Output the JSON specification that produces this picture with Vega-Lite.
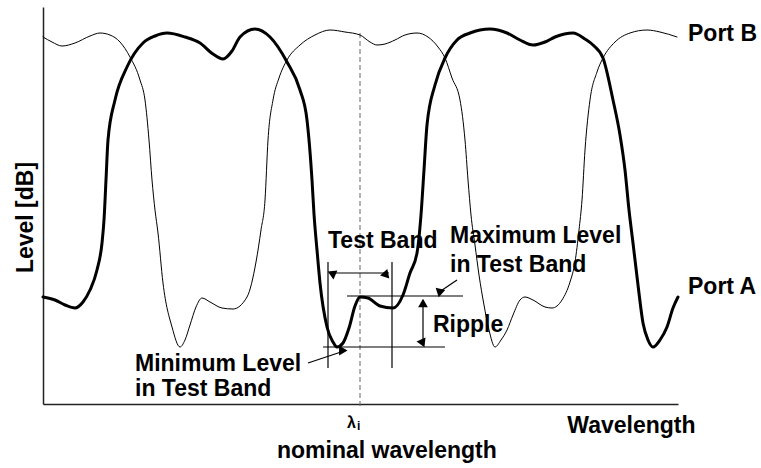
{
  "$schema": "https://vega.github.io/schema/vega-lite/v6.json",
  "autosize": {"type": "none"},
  "width": 635,
  "height": 397,
  "padding": {"left": 43, "top": 7, "right": 83, "bottom": 64},
  "background": "white",
  "config": {
    "view": {"stroke": null},
    "font": "Liberation Sans",
    "axis": {"grid": false, "ticks": false, "labels": false, "domainColor": "#222", "domainWidth": 1.5,
             "titleFont": "Liberation Sans", "titleFontWeight": "bold", "titleFontSize": 23, "titleColor": "#000"}
  },
  "datasets": {
    "curves": [
      {"port": "Port A", "wavelength": 0, "level": 107},
      {"port": "Port A", "wavelength": 12, "level": 104},
      {"port": "Port A", "wavelength": 22, "level": 99},
      {"port": "Port A", "wavelength": 32, "level": 96},
      {"port": "Port A", "wavelength": 40, "level": 102},
      {"port": "Port A", "wavelength": 47, "level": 114},
      {"port": "Port A", "wavelength": 54, "level": 134},
      {"port": "Port A", "wavelength": 59, "level": 161},
      {"port": "Port A", "wavelength": 61, "level": 184},
      {"port": "Port A", "wavelength": 63, "level": 224},
      {"port": "Port A", "wavelength": 65, "level": 264},
      {"port": "Port A", "wavelength": 72, "level": 304},
      {"port": "Port A", "wavelength": 84, "level": 337},
      {"port": "Port A", "wavelength": 100, "level": 361},
      {"port": "Port A", "wavelength": 112, "level": 368},
      {"port": "Port A", "wavelength": 124, "level": 371},
      {"port": "Port A", "wavelength": 142, "level": 367},
      {"port": "Port A", "wavelength": 157, "level": 361},
      {"port": "Port A", "wavelength": 170, "level": 350},
      {"port": "Port A", "wavelength": 180, "level": 345},
      {"port": "Port A", "wavelength": 189, "level": 353},
      {"port": "Port A", "wavelength": 197, "level": 367},
      {"port": "Port A", "wavelength": 212, "level": 375},
      {"port": "Port A", "wavelength": 227, "level": 367},
      {"port": "Port A", "wavelength": 244, "level": 342},
      {"port": "Port A", "wavelength": 257, "level": 314},
      {"port": "Port A", "wavelength": 264, "level": 284},
      {"port": "Port A", "wavelength": 269, "level": 224},
      {"port": "Port A", "wavelength": 271, "level": 190},
      {"port": "Port A", "wavelength": 274, "level": 154},
      {"port": "Port A", "wavelength": 277, "level": 121},
      {"port": "Port A", "wavelength": 284, "level": 77},
      {"port": "Port A", "wavelength": 290, "level": 62},
      {"port": "Port A", "wavelength": 294, "level": 57},
      {"port": "Port A", "wavelength": 300, "level": 61},
      {"port": "Port A", "wavelength": 306, "level": 76},
      {"port": "Port A", "wavelength": 312, "level": 98},
      {"port": "Port A", "wavelength": 317, "level": 107},
      {"port": "Port A", "wavelength": 325, "level": 106},
      {"port": "Port A", "wavelength": 337, "level": 98},
      {"port": "Port A", "wavelength": 350, "level": 96},
      {"port": "Port A", "wavelength": 360, "level": 109},
      {"port": "Port A", "wavelength": 367, "level": 131},
      {"port": "Port A", "wavelength": 374, "level": 151},
      {"port": "Port A", "wavelength": 378, "level": 189},
      {"port": "Port A", "wavelength": 381, "level": 234},
      {"port": "Port A", "wavelength": 384, "level": 279},
      {"port": "Port A", "wavelength": 392, "level": 319},
      {"port": "Port A", "wavelength": 402, "level": 346},
      {"port": "Port A", "wavelength": 414, "level": 364},
      {"port": "Port A", "wavelength": 427, "level": 371},
      {"port": "Port A", "wavelength": 447, "level": 375},
      {"port": "Port A", "wavelength": 464, "level": 371},
      {"port": "Port A", "wavelength": 477, "level": 364},
      {"port": "Port A", "wavelength": 490, "level": 359},
      {"port": "Port A", "wavelength": 502, "level": 362},
      {"port": "Port A", "wavelength": 512, "level": 367},
      {"port": "Port A", "wavelength": 530, "level": 371},
      {"port": "Port A", "wavelength": 542, "level": 365},
      {"port": "Port A", "wavelength": 550, "level": 359},
      {"port": "Port A", "wavelength": 560, "level": 346},
      {"port": "Port A", "wavelength": 570, "level": 304},
      {"port": "Port A", "wavelength": 577, "level": 269},
      {"port": "Port A", "wavelength": 582, "level": 234},
      {"port": "Port A", "wavelength": 586, "level": 194},
      {"port": "Port A", "wavelength": 590, "level": 161},
      {"port": "Port A", "wavelength": 595, "level": 119},
      {"port": "Port A", "wavelength": 600, "level": 81},
      {"port": "Port A", "wavelength": 605, "level": 64},
      {"port": "Port A", "wavelength": 610, "level": 57},
      {"port": "Port A", "wavelength": 617, "level": 64},
      {"port": "Port A", "wavelength": 624, "level": 77},
      {"port": "Port A", "wavelength": 630, "level": 96},
      {"port": "Port A", "wavelength": 635, "level": 107},

      {"port": "Port B", "wavelength": 0, "level": 367},
      {"port": "Port B", "wavelength": 9, "level": 362},
      {"port": "Port B", "wavelength": 19, "level": 358},
      {"port": "Port B", "wavelength": 32, "level": 361},
      {"port": "Port B", "wavelength": 47, "level": 368},
      {"port": "Port B", "wavelength": 57, "level": 371},
      {"port": "Port B", "wavelength": 67, "level": 369},
      {"port": "Port B", "wavelength": 77, "level": 362},
      {"port": "Port B", "wavelength": 87, "level": 347},
      {"port": "Port B", "wavelength": 97, "level": 324},
      {"port": "Port B", "wavelength": 102, "level": 304},
      {"port": "Port B", "wavelength": 106, "level": 264},
      {"port": "Port B", "wavelength": 109, "level": 224},
      {"port": "Port B", "wavelength": 112, "level": 194},
      {"port": "Port B", "wavelength": 115, "level": 171},
      {"port": "Port B", "wavelength": 120, "level": 121},
      {"port": "Port B", "wavelength": 129, "level": 77},
      {"port": "Port B", "wavelength": 137, "level": 57},
      {"port": "Port B", "wavelength": 142, "level": 64},
      {"port": "Port B", "wavelength": 147, "level": 79},
      {"port": "Port B", "wavelength": 153, "level": 97},
      {"port": "Port B", "wavelength": 159, "level": 106},
      {"port": "Port B", "wavelength": 167, "level": 102},
      {"port": "Port B", "wavelength": 179, "level": 96},
      {"port": "Port B", "wavelength": 190, "level": 95},
      {"port": "Port B", "wavelength": 204, "level": 107},
      {"port": "Port B", "wavelength": 213, "level": 142},
      {"port": "Port B", "wavelength": 218, "level": 174},
      {"port": "Port B", "wavelength": 222, "level": 204},
      {"port": "Port B", "wavelength": 225, "level": 264},
      {"port": "Port B", "wavelength": 230, "level": 304},
      {"port": "Port B", "wavelength": 236, "level": 326},
      {"port": "Port B", "wavelength": 244, "level": 344},
      {"port": "Port B", "wavelength": 257, "level": 359},
      {"port": "Port B", "wavelength": 272, "level": 369},
      {"port": "Port B", "wavelength": 287, "level": 374},
      {"port": "Port B", "wavelength": 302, "level": 372},
      {"port": "Port B", "wavelength": 317, "level": 369},
      {"port": "Port B", "wavelength": 327, "level": 362},
      {"port": "Port B", "wavelength": 334, "level": 359},
      {"port": "Port B", "wavelength": 342, "level": 360},
      {"port": "Port B", "wavelength": 352, "level": 364},
      {"port": "Port B", "wavelength": 362, "level": 369},
      {"port": "Port B", "wavelength": 374, "level": 371},
      {"port": "Port B", "wavelength": 385, "level": 367},
      {"port": "Port B", "wavelength": 395, "level": 357},
      {"port": "Port B", "wavelength": 402, "level": 346},
      {"port": "Port B", "wavelength": 409, "level": 326},
      {"port": "Port B", "wavelength": 417, "level": 304},
      {"port": "Port B", "wavelength": 422, "level": 264},
      {"port": "Port B", "wavelength": 425, "level": 224},
      {"port": "Port B", "wavelength": 428, "level": 189},
      {"port": "Port B", "wavelength": 432, "level": 159},
      {"port": "Port B", "wavelength": 436, "level": 129},
      {"port": "Port B", "wavelength": 441, "level": 99},
      {"port": "Port B", "wavelength": 446, "level": 74},
      {"port": "Port B", "wavelength": 452, "level": 57},
      {"port": "Port B", "wavelength": 458, "level": 64},
      {"port": "Port B", "wavelength": 464, "level": 74},
      {"port": "Port B", "wavelength": 470, "level": 89},
      {"port": "Port B", "wavelength": 477, "level": 104},
      {"port": "Port B", "wavelength": 482, "level": 107},
      {"port": "Port B", "wavelength": 490, "level": 104},
      {"port": "Port B", "wavelength": 502, "level": 97},
      {"port": "Port B", "wavelength": 509, "level": 96},
      {"port": "Port B", "wavelength": 519, "level": 104},
      {"port": "Port B", "wavelength": 527, "level": 122},
      {"port": "Port B", "wavelength": 532, "level": 142},
      {"port": "Port B", "wavelength": 536, "level": 174},
      {"port": "Port B", "wavelength": 539, "level": 204},
      {"port": "Port B", "wavelength": 542, "level": 254},
      {"port": "Port B", "wavelength": 547, "level": 304},
      {"port": "Port B", "wavelength": 554, "level": 332},
      {"port": "Port B", "wavelength": 560, "level": 346},
      {"port": "Port B", "wavelength": 572, "level": 362},
      {"port": "Port B", "wavelength": 587, "level": 371},
      {"port": "Port B", "wavelength": 604, "level": 374},
      {"port": "Port B", "wavelength": 617, "level": 372},
      {"port": "Port B", "wavelength": 634, "level": 367}
    ],
    "segments": [
      {"x": 285, "x2": 285, "level": 142, "level2": 36},
      {"x": 349, "x2": 349, "level": 142, "level2": 36},
      {"x": 304, "x2": 420, "level": 108, "level2": 108},
      {"x": 280, "x2": 402, "level": 57, "level2": 57},
      {"x": 288, "x2": 346, "level": 131, "level2": 131},
      {"x": 380, "x2": 380, "level": 104, "level2": 60},
      {"x": 414, "x2": 397, "level": 124, "level2": 112.5},
      {"x": 265, "x2": 301, "level": 41, "level2": 53}
    ],
    "heads": [
      {"dir": "left", "x": 291, "level": 131},
      {"dir": "right", "x": 343, "level": 131},
      {"dir": "up", "x": 380, "level": 101},
      {"dir": "down", "x": 380, "level": 63},
      {"dir": "downleft", "x": 398.2, "level": 112.8},
      {"dir": "upright", "x": 300.3, "level": 53.4}
    ],
    "labels": [
      {"label": "Test Band", "x": 285, "level": 156},
      {"label": "Maximum Level", "x": 407, "level": 161},
      {"label": "in Test Band", "x": 407, "level": 132},
      {"label": "Minimum Level", "x": 92, "level": 33},
      {"label": "in Test Band", "x": 92, "level": 8},
      {"label": "Ripple", "x": 390, "level": 72},
      {"label": "Port B", "x": 645, "level": 363},
      {"label": "Port A", "x": 645, "level": 110},
      {"label": "nominal wavelength", "x": 234, "level": -54}
    ],
    "nominal": [
      {"x": 317, "level": 371, "level2": -3}
    ]
  },
  "layer": [
    {
      "data": {"name": "nominal"},
      "mark": {"type": "rule", "color": "#666", "strokeWidth": 1, "strokeDash": [5, 3]},
      "encoding": {
        "x": {"field": "x", "type": "quantitative", "scale": {"domain": [0, 635], "nice": false, "zero": false},
              "axis": {"title": "Wavelength", "titleX": 652, "titleY": 28, "titleAlign": "right", "titleBaseline": "alphabetic", "titleAnchor": null}},
        "y": {"field": "level", "type": "quantitative", "scale": {"domain": [0, 397], "nice": false, "zero": false},
              "axis": {"title": "Level [dB]", "titleX": -11, "titleY": 210, "titleAngle": 270, "titleAlign": "center", "titleBaseline": "alphabetic", "titleAnchor": null}},
        "y2": {"field": "level2"}
      }
    },
    {
      "data": {"name": "curves"},
      "mark": {"type": "line", "color": "#000", "interpolate": "monotone", "strokeJoin": "round", "strokeCap": "round"},
      "encoding": {
        "x": {"field": "wavelength", "type": "quantitative"},
        "y": {"field": "level", "type": "quantitative"},
        "strokeWidth": {"field": "port", "type": "nominal", "scale": {"domain": ["Port A", "Port B"], "range": [3, 1]}, "legend": null}
      }
    },
    {
      "data": {"name": "segments"},
      "mark": {"type": "rule", "color": "#000", "strokeWidth": 1.2},
      "encoding": {
        "x": {"field": "x", "type": "quantitative"},
        "x2": {"field": "x2"},
        "y": {"field": "level", "type": "quantitative"},
        "y2": {"field": "level2"}
      }
    },
    {
      "data": {"name": "heads"},
      "mark": {"type": "point", "shape": "triangle-up", "filled": true, "color": "#000", "size": 95, "opacity": 1},
      "encoding": {
        "x": {"field": "x", "type": "quantitative"},
        "y": {"field": "level", "type": "quantitative"},
        "angle": {"field": "dir", "type": "nominal", "scale": {"domain": ["up", "right", "down", "left", "downleft", "upright"], "range": [0, 90, 180, 270, 235.6, 71.6]}, "legend": null}
      }
    },
    {
      "data": {"name": "labels"},
      "mark": {"type": "text", "align": "left", "baseline": "alphabetic", "font": "Liberation Sans", "fontWeight": "bold", "fontSize": 23, "color": "#000"},
      "encoding": {
        "x": {"field": "x", "type": "quantitative"},
        "y": {"field": "level", "type": "quantitative"},
        "text": {"field": "label"}
      }
    },
    {
      "data": {"values": [{"label": "λ", "x": 304, "level": -24}]},
      "mark": {"type": "text", "align": "left", "baseline": "alphabetic", "font": "Liberation Sans", "fontWeight": "bold", "fontSize": 16, "color": "#000"},
      "encoding": {
        "x": {"field": "x", "type": "quantitative"},
        "y": {"field": "level", "type": "quantitative"},
        "text": {"field": "label"}
      }
    },
    {
      "data": {"values": [{"label": "i", "x": 314, "level": -26}]},
      "mark": {"type": "text", "align": "left", "baseline": "alphabetic", "font": "Liberation Sans", "fontWeight": "bold", "fontSize": 12, "color": "#000"},
      "encoding": {
        "x": {"field": "x", "type": "quantitative"},
        "y": {"field": "level", "type": "quantitative"},
        "text": {"field": "label"}
      }
    }
  ]
}
